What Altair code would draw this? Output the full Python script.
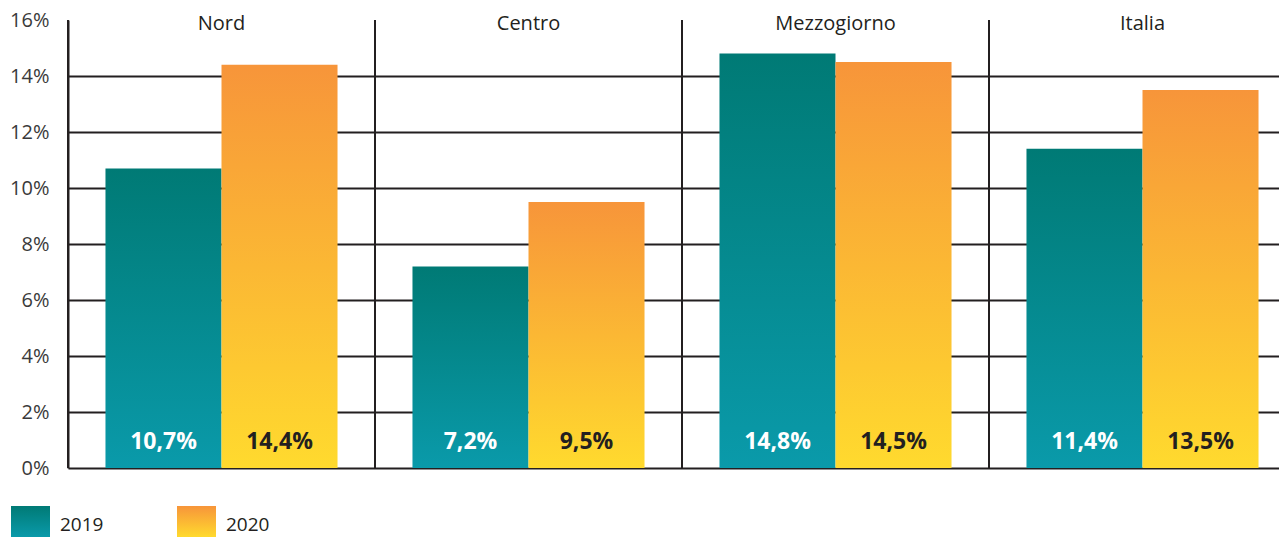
import altair as alt
import pandas as pd

regions = ["Nord", "Centro", "Mezzogiorno", "Italia"]
years = ["2019", "2020"]
v2019 = [10.7, 7.2, 14.8, 11.4]
v2020 = [14.4, 9.5, 14.5, 13.5]
y_ticks = [0, 2, 4, 6, 8, 10, 12, 14, 16]

rows = []
for r, a, b in zip(regions, v2019, v2020):
    for yr, v in (("2019", a), ("2020", b)):
        rows.append({"region": r, "year": yr, "value": v,
                     "label": f"{v:.1f}".replace(".", ",") + "%"})
df = pd.DataFrame(rows)
reg_df = pd.DataFrame({"region": regions})

FONT = "Open Sans"
DARK = "#231f20"

teal = alt.Gradient(gradient="linear", x1=1, x2=1, y1=0, y2=1,
                    stops=[alt.GradientStop(color="#007a75", offset=0),
                           alt.GradientStop(color="#0a9aaa", offset=1)])
orange = alt.Gradient(gradient="linear", x1=1, x2=1, y1=0, y2=1,
                      stops=[alt.GradientStop(color="#f7953a", offset=0),
                             alt.GradientStop(color="#ffda2e", offset=1)])

xscale = alt.Scale(domain=regions, range=[0, 1228], paddingInner=0, paddingOuter=0)
xenc = alt.X("region:N", sort=regions, scale=xscale, axis=None)
xoff = alt.XOffset("year:N", scale=alt.Scale(domain=years, paddingOuter=0.323, paddingInner=0))
yscale = alt.Scale(domain=[0, 16], nice=False)
yenc = alt.Y("value:Q", scale=yscale,
             axis=alt.Axis(values=y_ticks, labelExpr="datum.value + '%'", title=None,
                           grid=True, gridColor=DARK, gridWidth=2,
                           gridOpacity=alt.condition("datum.value == 16", alt.value(0), alt.value(1)),
                           domainColor=DARK, domainWidth=2, ticks=False, labelPadding=19,
                           labelFont=FONT, labelFontSize=20, labelColor="#3a3a3a",
                           minExtent=60, maxExtent=60))

base = alt.Chart(df)

seps = alt.Chart(reg_df).mark_rule(color=DARK, strokeWidth=2).encode(
    x=alt.X("region:N", sort=regions, scale=xscale, axis=None, bandPosition=0),
    y=alt.datum(0, scale=yscale), y2=alt.datum(16))

bars19 = base.transform_filter("datum.year == '2019'").mark_bar(color=teal).encode(
    x=xenc, xOffset=xoff, y=yenc)
bars20 = base.transform_filter("datum.year == '2020'").mark_bar(color=orange).encode(
    x=xenc, xOffset=xoff, y=yenc)

labels = base.mark_text(font=FONT, fontSize=23, fontWeight="bold", baseline="alphabetic",
                        dy=-19).encode(
    x=xenc, xOffset=xoff, y=alt.datum(0),
    text="label:N",
    color=alt.condition("datum.year == '2019'", alt.value("white"), alt.value(DARK)))

titles = alt.Chart(reg_df).mark_text(
    font=FONT, fontSize=20, color=DARK, baseline="alphabetic").encode(
    x=xenc, y=alt.value(10), text="region:N")

one = alt.Data(values=[{}])
leg19 = alt.Chart(one).mark_rect(color=teal).encode(
    x=alt.value(-57), x2=alt.value(-18), y=alt.value(486), y2=alt.value(517))
leg20 = alt.Chart(one).mark_rect(color=orange).encode(
    x=alt.value(109), x2=alt.value(148), y=alt.value(486), y2=alt.value(517))
legt19 = alt.Chart(one).mark_text(font=FONT, fontSize=19, color=DARK, align="left",
                                  baseline="middle", text="2019").encode(
    x=alt.value(-8), y=alt.value(505))
legt20 = alt.Chart(one).mark_text(font=FONT, fontSize=19, color=DARK, align="left",
                                  baseline="middle", text="2020").encode(
    x=alt.value(158), y=alt.value(505))

chart = alt.layer(seps, bars19, bars20, labels, titles, leg19, leg20, legt19, legt20).properties(
    width=1211, height=448, padding={"top": 2, "left": 0, "right": 0, "bottom": 0}
).configure_view(stroke=None)

chart.save("out.html", embed_options={"renderer": "svg", "actions": False})
